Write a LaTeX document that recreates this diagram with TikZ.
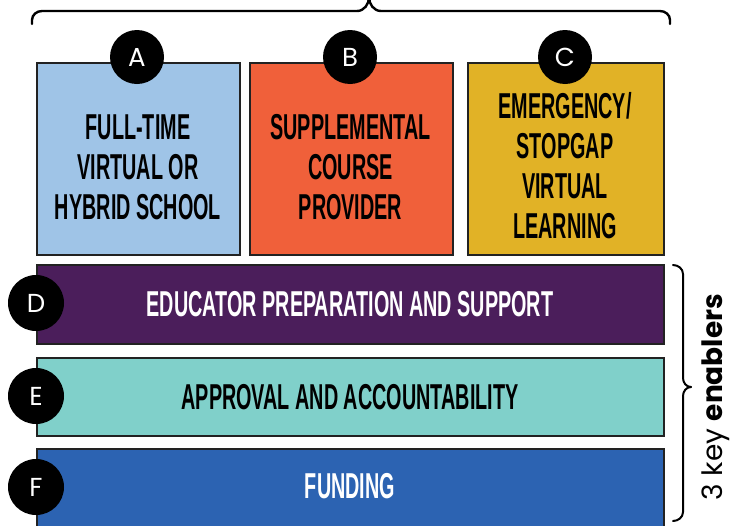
\documentclass[tikz,border=0pt]{standalone}
\usepackage{fontspec}
\setmainfont{Liberation Sans}
\newfontfamily\cond{Liberation Sans}[FakeStretch=0.55]
\newfontfamily\pop{Poppins}
\definecolor{cA}{HTML}{9FC4E7}
\definecolor{cB}{HTML}{F0603A}
\definecolor{cC}{HTML}{E1B226}
\definecolor{cD}{HTML}{4B1E5B}
\definecolor{cE}{HTML}{80D0CA}
\definecolor{cF}{HTML}{2C63B2}
\definecolor{edge}{HTML}{222222}
\begin{document}
\begin{tikzpicture}[x=1pt,y=-1pt,
  boxst/.style={draw=edge,line width=1.6pt,inner sep=0pt,anchor=north west},
  lab/.style={font=\cond\bfseries\fontsize{36}{40}\selectfont,align=center,inner sep=0pt},
  dot/.style={circle,fill=black,inner sep=0pt,minimum size=#1,text=white,font=\pop\fontsize{26}{26}\selectfont},
  bracest/.style={line width=2.4pt,line cap=round,line join=round}]
\useasboundingbox (0,0) rectangle (733,525);
\begin{scope}
\clip (0,0) rectangle (733,525);
% top boxes
\node[boxst,fill=cA,minimum width=203pt,minimum height=192pt] (boxA) at (36,62) {};
\node[boxst,fill=cB,minimum width=203pt,minimum height=192pt] (boxB) at (249,62) {};
\node[boxst,fill=cC,minimum width=196pt,minimum height=192pt] (boxC) at (467,62) {};
\node[lab] (tA) at (138,167) {FULL-TIME\\VIRTUAL OR\\HYBRID SCHOOL};
\node[lab] (tB) at (350.5,167) {SUPPLEMENTAL\\COURSE\\PROVIDER};
\node[lab] (tC) at (565,166) {EMERGENCY/\\STOPGAP\\VIRTUAL\\LEARNING};
% bars
\node[boxst,fill=cD,minimum width=627pt,minimum height=79pt] (barD) at (36,264) {};
\node[boxst,fill=cE,minimum width=627pt,minimum height=78pt] (barE) at (36,357) {};
\node[boxst,fill=cF,minimum width=627pt,minimum height=90pt] (barF) at (36,448) {};
\node[lab,text=white] (tD) at (350,304) {EDUCATOR PREPARATION AND SUPPORT};
\node[lab] (tE) at (350,397) {APPROVAL AND ACCOUNTABILITY};
\node[lab,text=white] (tF) at (350,486) {FUNDING};
% circles
\node[dot=54pt] (cirA) at (137,57) {A};
\node[dot=54pt] (cirB) at (350,57) {B};
\node[dot=54pt] (cirC) at (565,57) {C};
\node[dot=56pt] (cirD) at (36,303) {D};
\node[dot=56pt] (cirE) at (36,396) {E};
\node[dot=56pt] (cirF) at (36,487) {F};
% top brace
\coordinate (tbL) at (32,24);
\coordinate (tbR) at (670,24);
\coordinate (tbM) at (369,-3);
\draw[bracest] (tbL) -- (32,20) to[out=90,in=180] (42,11) -- (357,11) to[out=0,in=-90] (tbM);
\draw[bracest] (tbM) to[out=-90,in=180] (381,11) -- (660,11) to[out=0,in=90] (670,20) -- (tbR);
% right brace
\coordinate (rbT) at (673,265);
\coordinate (rbB) at (673,521);
\coordinate (rbM) at (691,387);
\draw[bracest,line width=2pt] (rbT) to[out=0,in=90] (683,274) -- (683,378) to[out=-90,in=180] (rbM);
\draw[bracest,line width=2pt] (rbM) to[out=180,in=90] (683,396) -- (683,512) to[out=-90,in=0] (rbB);
\end{scope}
\node[rotate=90,inner sep=0pt,font=\pop\fontsize{28}{28}\selectfont] (enab) at (716,397) {3 key \textbf{enablers}};
\end{tikzpicture}
\end{document}
